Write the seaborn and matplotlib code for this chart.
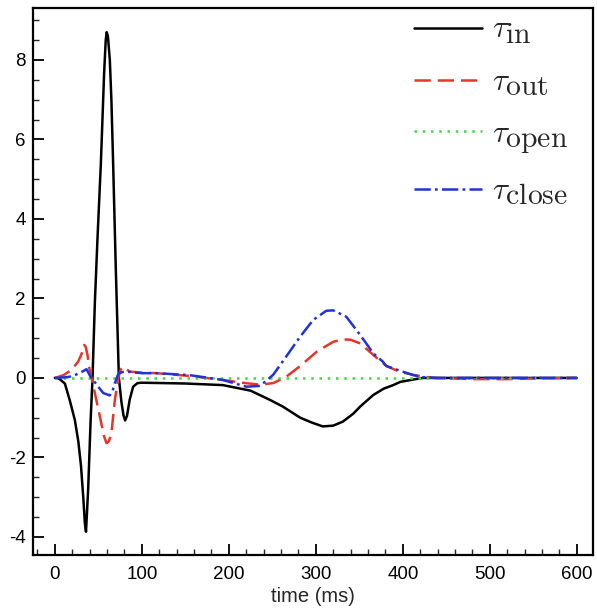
import numpy as np
import pandas as pd
import seaborn as sns
import matplotlib
matplotlib.use("Agg")
import matplotlib.pyplot as plt
import matplotlib._mathtext as _mt
from matplotlib.ticker import MultipleLocator

# ---- data ----
t_in = [0, 5, 11.5, 17, 23, 27, 30, 32.6, 34.5, 35.8, 38.3, 41, 43.3, 46, 49, 52.9,
        56.7, 58.5, 59.6, 61, 63.2, 65, 67, 70, 73.6, 76.5, 79, 80.8, 83, 86, 90,
        95, 100, 150, 193, 225, 247, 262, 282, 295, 308, 320, 331, 343, 351, 366,
        378, 389, 397, 412, 423, 440, 500, 550, 600]
v_in = [0, -0.02, -0.14, -0.55, -1.06, -1.6, -2.2, -2.98, -3.65, -3.87, -2.8, -1.14, 0, 1.9, 3.5, 5.4,
        7.7, 8.5, 8.7, 8.6, 8.0, 7.0, 5.4, 2.8, 0.0, -0.6, -0.95, -1.07, -0.95, -0.55, -0.22,
        -0.13, -0.12, -0.14, -0.18, -0.32, -0.55, -0.72, -1.0, -1.12, -1.22, -1.2, -1.1, -0.9, -0.72, -0.43,
        -0.27, -0.18, -0.1, -0.04, 0, 0, 0, 0, 0]

t_out = [0, 10, 19, 26.8, 31, 33.7, 35.5, 37.5, 40, 45.2, 51.7, 56.7, 59.4, 62, 65, 69,
         73.4, 76, 78.5, 82, 86, 100, 117, 155, 193, 215, 236, 251, 266, 282, 301,
         320, 331, 340, 351, 366, 381, 397, 416, 435, 480, 520, 560, 600]
v_out = [0, 0.07, 0.2, 0.41, 0.62, 0.83, 0.78, 0.58, 0.2, -0.3, -0.97, -1.48, -1.64, -1.6, -1.39, -0.55,
         0.05, 0.22, 0.28, 0.22, 0.16, 0.13, 0.12, 0.05, -0.05, -0.12, -0.17, -0.13, 0.03, 0.3, 0.66,
         0.91, 0.97, 0.96, 0.87, 0.58, 0.3, 0.15, 0.06, 0.0, -0.03, -0.03, -0.01, 0]

t_open = [0, 100, 200, 300, 400, 500, 600]
v_open = [0, 0, 0, 0, 0, 0, 0]

t_close = [0, 15, 23, 30, 36.4, 41.8, 45, 49.8, 55.6, 59.4, 63, 66, 69, 72, 74, 78, 82,
           100, 117, 155, 193, 220, 236, 251, 266, 282, 297, 312, 320, 335, 351, 366,
           377, 381, 397, 412, 423, 440, 500, 550, 600]
v_close = [0, 0.02, 0.07, 0.14, 0.22, 0.0, -0.08, -0.22, -0.38, -0.41, -0.44, -0.35, -0.13, 0.05, 0.12, 0.15, 0.16,
           0.12, 0.12, 0.07, -0.05, -0.22, -0.2, 0.08, 0.54, 1.04, 1.46, 1.69, 1.7, 1.54, 1.08, 0.62,
           0.41, 0.3, 0.18, 0.07, 0.02, 0.0, 0.0, 0.0, 0]

labels = [r'$\tau_{\rm in}$', r'$\tau_{\rm out}$', r'$\tau_{\rm open}$', r'$\tau_{\rm close}$']
x_ticks = [0, 100, 200, 300, 400, 500, 600]
y_ticks = [-4, -2, 0, 2, 4, 6, 8]

# ---- plotting ----
sns.set_theme(style="white")
plt.rcParams['font.family'] = ['Liberation Sans', 'DejaVu Sans']
plt.rcParams['mathtext.fontset'] = 'cm'
# subscripts in the reference legend are nearly as large as the base symbol
_mt.SHRINK_FACTOR = 0.95

fig = plt.figure(figsize=(5.97, 6.09), dpi=100)
ax = fig.add_axes([0.055, 0.089, 0.938, 0.898])

sns.lineplot(x=t_in, y=v_in, ax=ax, color='black', lw=1.8, label=labels[0])
sns.lineplot(x=t_out, y=v_out, ax=ax, color='#e8352a', lw=1.8,
             linestyle=(0, (6.5, 2.8)), label=labels[1])
sns.lineplot(x=t_open, y=v_open, ax=ax, color='#3bdc3b', lw=1.8,
             linestyle=(0, (1, 2.3)), label=labels[2])
sns.lineplot(x=t_close, y=v_close, ax=ax, color='#1f32dc', lw=1.8,
             linestyle=(0, (6.5, 1.7, 1.1, 1.7)), label=labels[3])

ax.set_xlim(-25.3, 618.4)
ax.set_ylim(-4.45, 9.31)
ax.set_xticks(x_ticks)
ax.set_yticks(y_ticks)
ax.set_xticklabels([str(v) for v in x_ticks])
ax.set_yticklabels([str(v) for v in y_ticks])
ax.xaxis.set_minor_locator(MultipleLocator(20))
ax.yaxis.set_minor_locator(MultipleLocator(0.5))
ax.tick_params(axis='both', which='major', direction='in', length=8, width=1.3,
               labelsize=13.5, colors='black', bottom=True, left=True, top=False, right=False)
ax.tick_params(axis='both', which='minor', direction='in', length=4, width=1.0,
               bottom=True, left=True, top=False, right=False)
ax.tick_params(axis='x', which='major', pad=8)
ax.tick_params(axis='y', which='major', pad=5)
for s in ax.spines.values():
    s.set_visible(True)
    s.set_color('black')
    s.set_linewidth(1.6)

ax.set_xlabel('time (ms)', fontsize=14.5, labelpad=3)
ax.set_ylabel('')

leg = ax.legend(loc='upper left', bbox_to_anchor=(0.659, 1.008), frameon=False,
                fontsize=22.5, handlelength=2.18, labelspacing=0.68, handletextpad=0.32,
                borderaxespad=0.0, borderpad=0.4)

fig.savefig('out.png', dpi=100)
